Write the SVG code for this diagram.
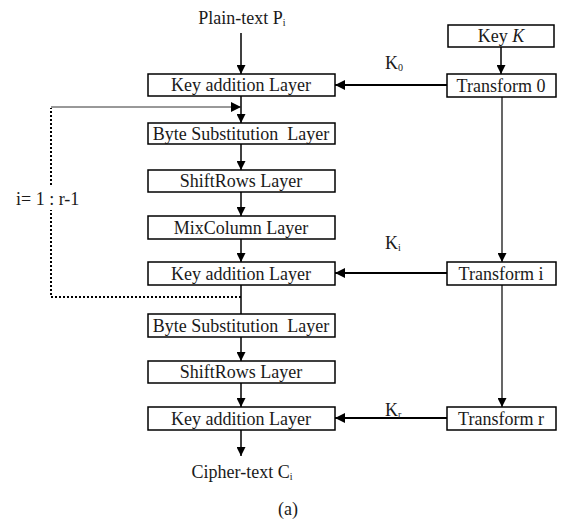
<svg xmlns="http://www.w3.org/2000/svg" width="566" height="522" viewBox="0 0 566 522">
<defs>
<style>
.box{fill:#fff;stroke:#000;stroke-width:1.5}
.t{font-family:"Liberation Serif","DejaVu Serif",serif;font-size:18px;fill:#1a1a1a;text-anchor:middle}
.lbl{font-family:"Liberation Serif","DejaVu Serif",serif;font-size:18px;fill:#1a1a1a}
.ln{stroke:#000;stroke-width:1.5;fill:none}
.hk{stroke:#000;stroke-width:2;fill:none}
.vk{stroke:#000;stroke-width:1.2;fill:none}
.dot{stroke:#000;stroke-width:2;stroke-dasharray:2 2;fill:none}
.fb{stroke:#333;stroke-width:1;fill:none}
.sub{font-size:10px}
</style>
<marker id="ah" viewBox="0 0 10 10" refX="10" refY="5" markerWidth="10" markerHeight="9" markerUnits="userSpaceOnUse" orient="auto">
<path d="M0,0 L10,5 L0,10 Z" fill="#000"/>
</marker>
<marker id="ahs" viewBox="0 0 10 10" refX="10" refY="5" markerWidth="12" markerHeight="10" markerUnits="userSpaceOnUse" orient="auto">
<path d="M0,0 L10,5 L0,10 Z" fill="#000"/>
</marker>
</defs>
<g id="connectors">
<line class="ln" x1="241" y1="33" x2="241" y2="74" marker-end="url(#ah)"/>
<line class="ln" x1="241" y1="96" x2="241" y2="123" marker-end="url(#ah)"/>
<line class="ln" x1="241" y1="144" x2="241" y2="170" marker-end="url(#ah)"/>
<line class="ln" x1="241" y1="192" x2="241" y2="216" marker-end="url(#ah)"/>
<line class="ln" x1="241" y1="239" x2="241" y2="262" marker-end="url(#ah)"/>
<line class="ln" x1="241" y1="285" x2="241" y2="314"/>
<line class="ln" x1="241" y1="337" x2="241" y2="361" marker-end="url(#ah)"/>
<line class="ln" x1="241" y1="383" x2="241" y2="407" marker-end="url(#ah)"/>
<line class="ln" x1="241" y1="430" x2="241" y2="456" marker-end="url(#ah)"/>
<polyline class="dot" points="241,297 51,297 51,210"/>
<line class="dot" x1="51" y1="185" x2="51" y2="108"/>
<line class="fb" x1="51" y1="107" x2="241" y2="107" marker-end="url(#ahs)"/>
<line class="ln" x1="501" y1="47" x2="501" y2="74" marker-end="url(#ah)"/>
<line class="hk" x1="447" y1="85" x2="335" y2="85" marker-end="url(#ahs)"/>
<line class="vk" x1="502" y1="97" x2="502" y2="262" marker-end="url(#ah)"/>
<line class="hk" x1="447" y1="273" x2="335" y2="273" marker-end="url(#ahs)"/>
<line class="vk" x1="502" y1="285" x2="502" y2="407" marker-end="url(#ah)"/>
<line class="hk" x1="447" y1="418" x2="335" y2="418" marker-end="url(#ahs)"/>
</g>
<g id="plaintext"><text class="t" x="242" y="24">Plain-text  P<tspan class="sub" dy="2">i</tspan></text></g>
<g id="ka1"><rect class="box" x="148" y="74" width="187" height="22"/><text class="t" x="241" y="91">Key addition Layer</text></g>
<g id="bs1"><rect class="box" x="148" y="123" width="187" height="21"/><text class="t" x="241" y="140" xml:space="preserve">Byte Substitution  Layer</text></g>
<g id="sr1"><rect class="box" x="148" y="170" width="187" height="22"/><text class="t" x="241" y="187">ShiftRows Layer</text></g>
<g id="mc"><rect class="box" x="148" y="216" width="187" height="23"/><text class="t" x="241" y="234">MixColumn Layer</text></g>
<g id="ka2"><rect class="box" x="148" y="262" width="187" height="23"/><text class="t" x="241" y="280">Key addition Layer</text></g>
<g id="bs2"><rect class="box" x="148" y="314" width="187" height="23"/><text class="t" x="241" y="332" xml:space="preserve">Byte Substitution  Layer</text></g>
<g id="sr2"><rect class="box" x="148" y="361" width="187" height="22"/><text class="t" x="241" y="378">ShiftRows Layer</text></g>
<g id="ka3"><rect class="box" x="148" y="407" width="187" height="23"/><text class="t" x="241" y="425">Key addition Layer</text></g>
<g id="ciphertext"><text class="t" x="242" y="478">Cipher-text  C<tspan class="sub" dy="2">i</tspan></text></g>
<g id="loop-label"><text class="lbl" x="16" y="205">i= 1 : r-1</text></g>
<g id="keyk"><rect class="box" x="448" y="25" width="106" height="22"/><text class="t" x="501" y="42">Key <tspan font-style="italic">K</tspan></text></g>
<g id="t0"><rect class="box" x="447" y="74" width="109" height="23"/><text class="t" x="501" y="92">Transform 0</text></g>
<g id="ti"><rect class="box" x="447" y="262" width="109" height="23"/><text class="t" x="501" y="280">Transform i</text></g>
<g id="tr"><rect class="box" x="447" y="407" width="109" height="23"/><text class="t" x="501" y="425">Transform r</text></g>
<g id="k0"><text class="lbl" x="385" y="69">K<tspan class="sub" dy="2">0</tspan></text></g>
<g id="ki"><text class="lbl" x="385" y="249">K<tspan class="sub" dy="2">i</tspan></text></g>
<g id="kr"><text class="lbl" x="385" y="416">K<tspan class="sub" dy="2">r</tspan></text></g>
<g id="caption"><text class="t" x="288" y="515">(a)</text></g>
</svg>
